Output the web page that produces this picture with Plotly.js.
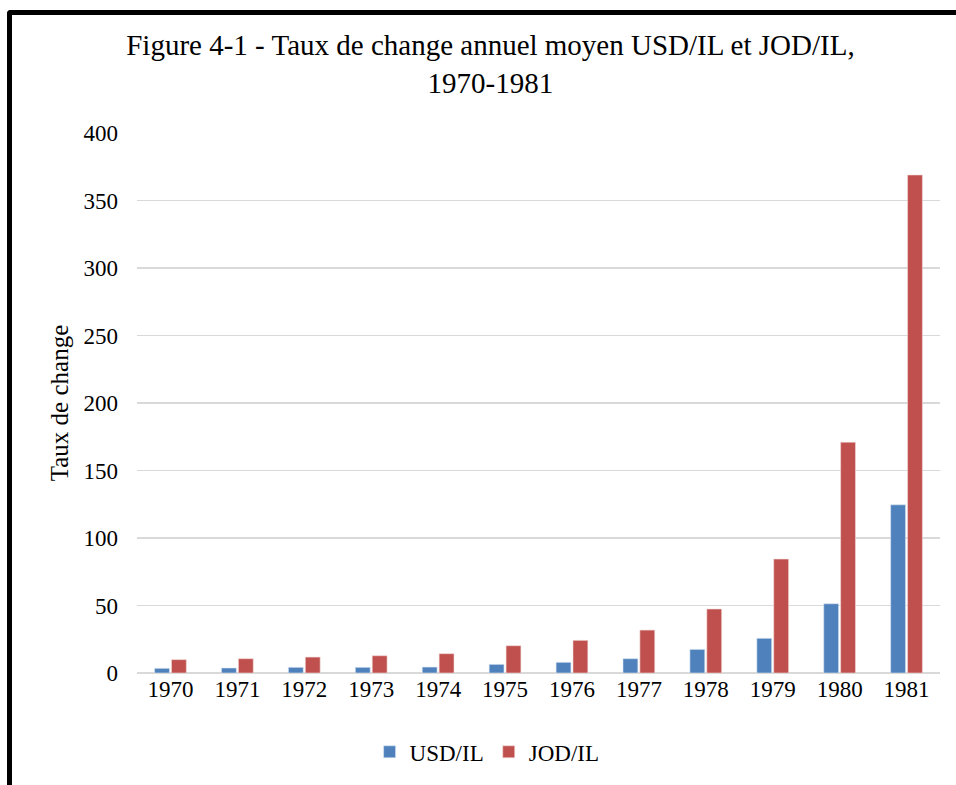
<!DOCTYPE html>
<html>
<head>
<meta charset="utf-8">
<script src="https://cdn.plot.ly/plotly-3.0.1.min.js"></script>
<style>
  html, body { margin: 0; padding: 0; background: #fff; }
  #wrap { position: relative; width: 956px; height: 785px; overflow: hidden; }
  #chart { width: 956px; height: 785px; }
  #frame { position: absolute; left: 7px; top: 10px; width: 1000px; height: 900px;
           border-left: 5.5px solid #000; border-top: 5.5px solid #000;
           border-top-left-radius: 4px; pointer-events: none; }
</style>
</head>
<body>
<div id="wrap">
  <div id="chart"></div>
  <div id="frame"></div>
</div>
<script>
const years = ['1970','1971','1972','1973','1974','1975','1976','1977','1978','1979','1980','1981'];
const usdIL = [3.45, 3.7, 4.2, 4.2, 4.4, 6.4, 7.9, 10.6, 17.5, 25.7, 51.3, 124.6];
const jodIL = [9.9, 10.6, 11.8, 12.8, 14.3, 20.2, 24.2, 31.8, 47.4, 84.4, 171, 368.9];
const yTicks = [0, 50, 100, 150, 200, 250, 300, 350, 400];

const font = 'Liberation Serif, Times New Roman, serif';

const traces = [
  { type: 'bar', name: 'USD/IL', x: years, y: usdIL,
    marker: { color: '#4F81BD', line: { color: '#dbe5f1', width: 0.6 } } },
  { type: 'bar', name: 'JOD/IL', x: years, y: jodIL,
    marker: { color: '#C0504D', line: { color: '#f2dcdb', width: 0.6 } } }
];

const layout = {
  width: 956, height: 785,
  paper_bgcolor: '#fff', plot_bgcolor: '#fff',
  margin: { l: 137, r: 16, t: 133, b: 112 },
  font: { family: font, color: '#000', size: 22 },
  title: {
    text: 'Figure 4-1 - Taux de change annuel moyen USD/IL et JOD/IL,<br>1970-1981',
    font: { family: font, size: 29, color: '#000' },
    x: 0.513, xanchor: 'center', xref: 'container',
    y: 0.93, yanchor: 'top', yref: 'container'
  },
  barmode: 'group', bargap: 0.495, bargroupgap: 0.12,
  xaxis: {
    type: 'category', showgrid: false, showline: false, zeroline: false,
    ticks: '', tickfont: { family: font, size: 23, color: '#000' }
  },
  yaxis: {
    range: [0, 400], tickvals: yTicks, ticktext: yTicks.map(String),
    showgrid: true, gridcolor: '#d9d9d9', gridwidth: 1.6,
    zeroline: true, zerolinecolor: '#d9d9d9', zerolinewidth: 1.6,
    showline: false, ticks: '', ticklabelstandoff: 18,
    tickfont: { family: font, size: 23, color: '#000' },
    title: { text: 'Taux de change', font: { family: font, size: 25, color: '#000' }, standoff: 7 }
  },
  showlegend: true,
  legend: {
    orientation: 'h', x: 0.436, xanchor: 'center', y: -0.146, yanchor: 'middle',
    font: { family: font, size: 23, color: '#000' }, itemwidth: 30,
    traceorder: 'normal'
  }
};

Plotly.newPlot('chart', traces, layout, { displayModeBar: false, staticPlot: true });
</script>
</body>
</html>
